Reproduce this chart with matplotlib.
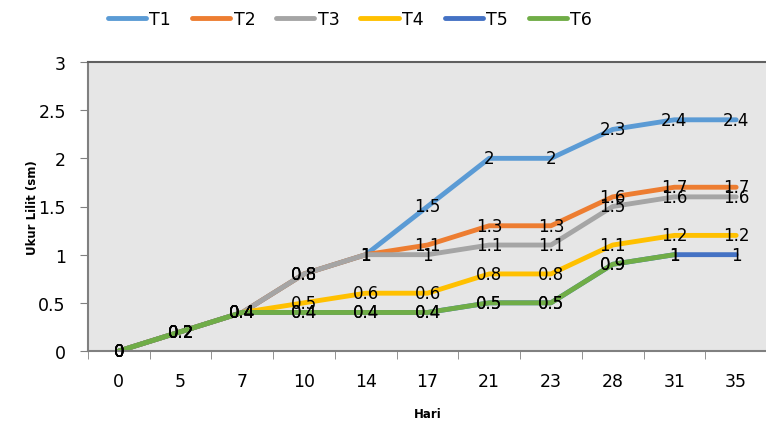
import numpy as np
import matplotlib.pyplot as plt

hari = ['0', '5', '7', '10', '14', '17', '21', '23', '28', '31', '35']
t1 = [0, 0.2, 0.4, 0.8, 1, 1.5, 2, 2, 2.3, 2.4, 2.4]
t2 = [0, 0.2, 0.4, 0.8, 1, 1.1, 1.3, 1.3, 1.6, 1.7, 1.7]
t3 = [0, 0.2, 0.4, 0.8, 1, 1, 1.1, 1.1, 1.5, 1.6, 1.6]
t4 = [0, 0.2, 0.4, 0.5, 0.6, 0.6, 0.8, 0.8, 1.1, 1.2, 1.2]
t5 = [0, 0.2, 0.4, 0.4, 0.4, 0.4, 0.5, 0.5, 0.9, 1, 1]
t6 = [0, 0.2, 0.4, 0.4, 0.4, 0.4, 0.5, 0.5, 0.9, 1]

seri = [('T1', t1, '#5B9BD5'), ('T2', t2, '#ED7D31'), ('T3', t3, '#A5A5A5'),
        ('T4', t4, '#FFC000'), ('T5', t5, '#4472C4'), ('T6', t6, '#70AD47')]

plt.rcParams['font.family'] = 'DejaVu Sans'
fig = plt.figure(figsize=(7.66, 4.27), dpi=100)
ax = fig.add_axes([88 / 766, 1 - 352 / 427, 679 / 766, 289 / 427])
ax.set_facecolor('#e6e6e6')

x = np.arange(len(hari))
for nama, nilai, warna in seri:
    ax.plot(x[:len(nilai)], nilai, color=warna, lw=3.5, label=nama,
            solid_capstyle='round', solid_joinstyle='round')

for nama, nilai, warna in seri:
    for xi, yi in zip(x, nilai):
        ax.text(xi, yi, f'{yi:g}', ha='center', va='center', fontsize=12, color='black')

ax.set_xlim(-0.5, len(hari) - 0.5)
ax.set_ylim(0, 3)
ax.set_yticks(np.arange(0, 3.01, 0.5))
ax.set_yticklabels(['0', '0.5', '1', '1.5', '2', '2.5', '3'])
ax.set_xticks(x)
ax.set_xticklabels(hari)
ax.set_xticks(np.arange(-0.5, len(hari), 1), minor=True)
ax.tick_params(axis='x', which='major', length=0, labelsize=12.5, pad=15)
ax.tick_params(axis='x', which='minor', length=6, color='#808080')
ax.tick_params(axis='y', length=6, color='#808080', labelsize=12.5, pad=10)

for s in ['left', 'bottom']:
    ax.spines[s].set_color('#808080')
    ax.spines[s].set_linewidth(1.5)
ax.spines['top'].set_color('#606060')
ax.spines['top'].set_linewidth(1.5)
ax.spines['right'].set_visible(False)

ax.set_xlabel('Hari', fontsize=8.5, fontweight='bold', labelpad=12)
ax.set_ylabel('Ukur Lilit (sm)', fontsize=8.5, fontweight='bold')
ax.yaxis.set_label_coords(-0.072, 0.5)

fig.legend(loc='upper center', bbox_to_anchor=(350 / 766, 1.01), ncol=6, frameon=False,
           fontsize=12.5, handlelength=2.2, handletextpad=0.2, columnspacing=1.2)

fig.savefig('out.png', dpi=100)
